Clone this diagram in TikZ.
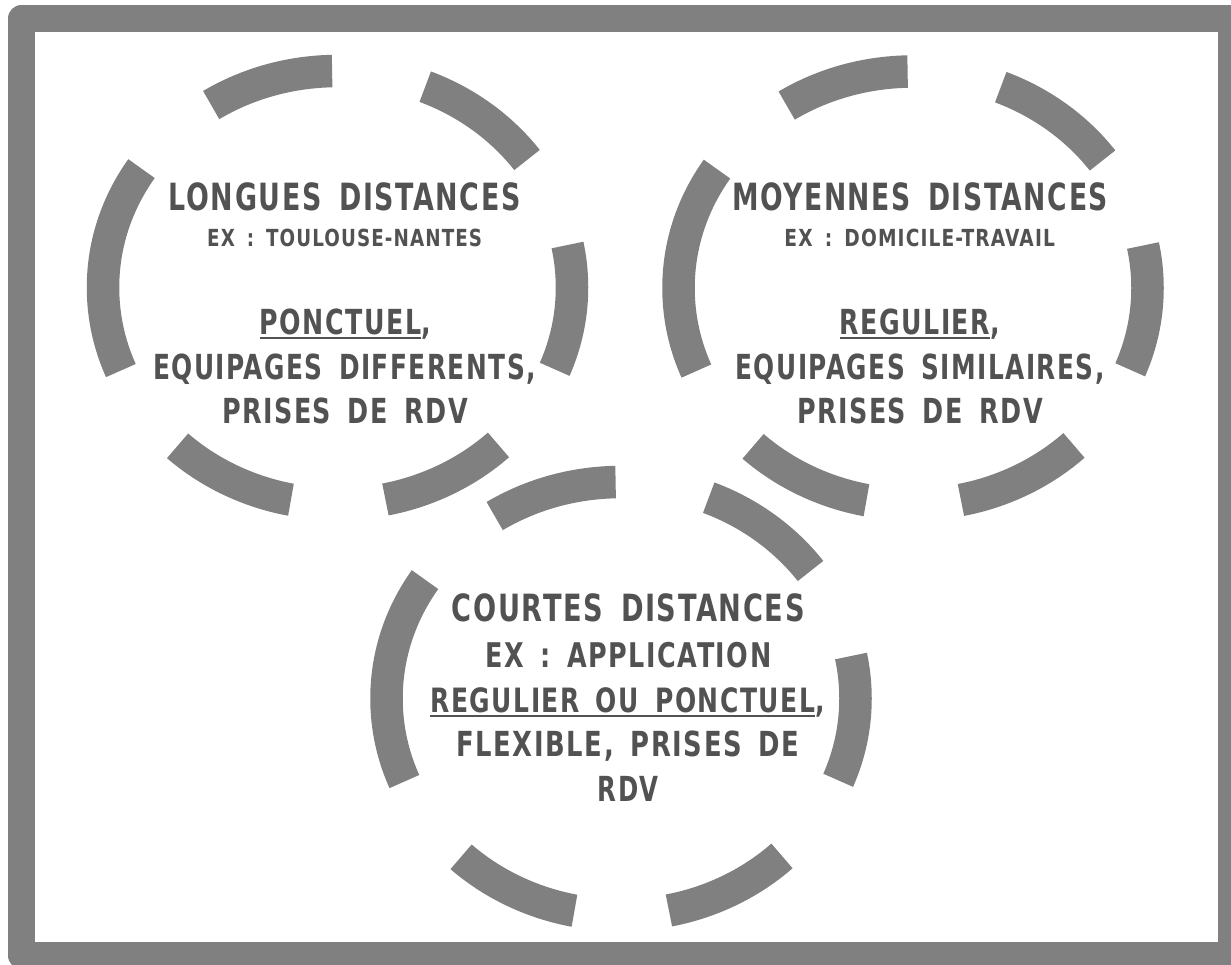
\documentclass[tikz,border=0pt]{standalone}
\usepackage{fontspec}
\usepackage{graphicx}
\setmainfont{DejaVu Sans}[LetterSpace=6, WordSpace=1.6]
\definecolor{ringgray}{RGB}{128,128,128}
\definecolor{txtgray}{RGB}{82,82,82}
\newcommand\fitl[3]{{\fontsize{#2}{#2}\selectfont\bfseries\resizebox{#1}{\height}{#3}}}
\newcommand\ulx[1]{\setbox0=\hbox{#1}\rlap{\rule[-4.2pt]{\wd0}{2pt}}\box0}
\tikzset{
  txtline/.style={inner sep=0pt, anchor=base, text=txtgray},
  dashring/.style={draw=ringgray, line width=32.5pt, dash pattern=on 127pt off 95pt},
  framebox/.style={draw=ringgray, line width=27pt, line join=round}
}
\begin{document}
\begin{tikzpicture}[x=1pt,y=-1pt]
\useasboundingbox (0,0) rectangle (1231,965);
\clip (0,0) rectangle (1231,965);
\fill[white] (0,0) rectangle (1231,965);
\draw[framebox] (21.5,18.5) rectangle (1231.5,955.5);
% rings
\coordinate (c1) at (337.5,287.5);
\coordinate (c2) at (913,288);
\coordinate (c3) at (621,698.5);
\foreach \c in {c1,c2,c3}{
  \draw[dashring] (\c) ++(180:234.5 and 216.5) arc[start angle=180, end angle=540, x radius=234.5, y radius=216.5];
}
% circle 1
\node[txtline] (t1a) at (344.7,211) {\fitl{352pt}{37.5pt}{LONGUES DISTANCES}};
\node[txtline] (t1b) at (344.7,246.5) {\fitl{275pt}{23.5pt}{EX : TOULOUSE-NANTES}};
\node[txtline] (t1c) at (345.3,335) {\fitl{171pt}{34.5pt}{\ulx{PONCTUEL},}};
\node[txtline] (t1d) at (344.5,380) {\fitl{383pt}{34.5pt}{EQUIPAGES DIFFERENTS,}};
\node[txtline] (t1e) at (345,423.3) {\fitl{246pt}{34.5pt}{PRISES DE RDV}};
% circle 2
\node[txtline] (t2a) at (920,211) {\fitl{376pt}{37.5pt}{MOYENNES DISTANCES}};
\node[txtline] (t2b) at (919.7,246.5) {\fitl{270.5pt}{23.5pt}{EX : DOMICILE-TRAVAIL}};
\node[txtline] (t2c) at (919.7,335) {\fitl{160pt}{34.5pt}{\ulx{REGULIER},}};
\node[txtline] (t2d) at (920,380) {\fitl{369pt}{34.5pt}{EQUIPAGES SIMILAIRES,}};
\node[txtline] (t2e) at (920,423.3) {\fitl{246pt}{34.5pt}{PRISES DE RDV}};
% circle 3
\node[txtline] (t3a) at (628.3,621.7) {\fitl{353pt}{37.5pt}{COURTES DISTANCES}};
\node[txtline] (t3b) at (628.3,667.7) {\fitl{286pt}{34pt}{EX : APPLICATION}};
\node[txtline] (t3c) at (627.5,712.3) {\fitl{394pt}{33.5pt}{\ulx{REGULIER OU PONCTUEL},}};
\node[txtline] (t3d) at (628,756.7) {\fitl{343pt}{34.5pt}{FLEXIBLE, PRISES DE}};
\node[txtline] (t3e) at (628.3,801) {\fitl{61pt}{34.5pt}{RDV}};
\end{tikzpicture}
\end{document}
